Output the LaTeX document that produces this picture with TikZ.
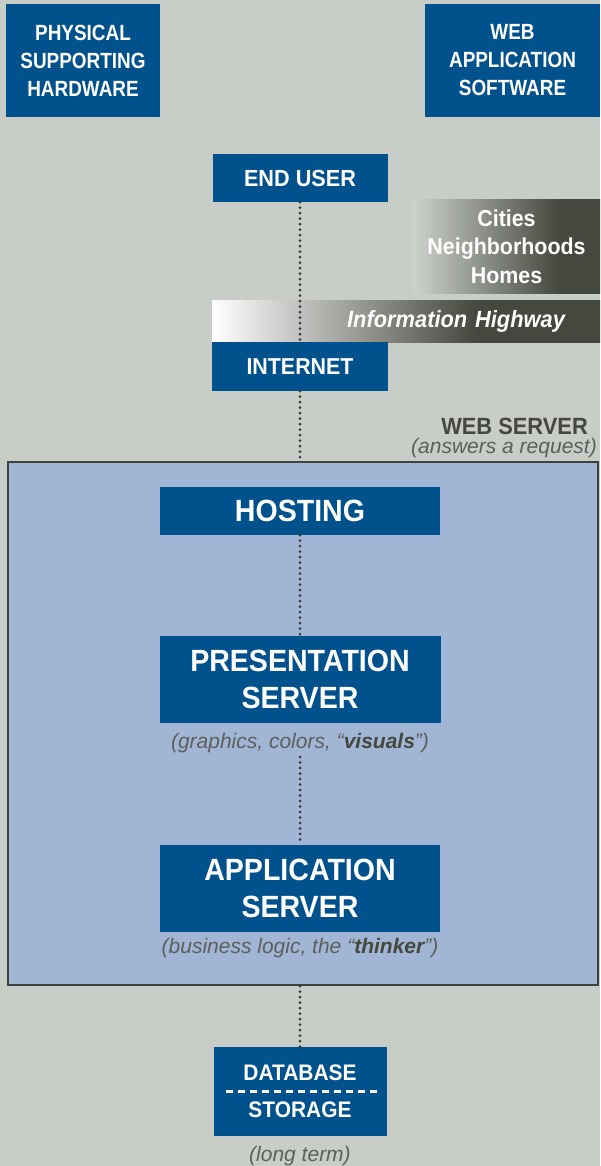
\documentclass[tikz,border=0pt]{standalone}
\usepackage{fontspec}
\setmainfont{Liberation Sans}
\newfontfamily\condfont[FakeStretch=0.86]{Liberation Sans}
\newfontfamily\widefont[FakeStretch=0.93]{Liberation Sans}
\usetikzlibrary{positioning}
\definecolor{bgray}{RGB}{200,205,199}
\definecolor{navy}{RGB}{0,81,140}
\definecolor{slate}{RGB}{68,72,62}
\definecolor{frameblue}{RGB}{161,181,212}
\definecolor{framegray}{RGB}{62,66,62}
\definecolor{notegray}{RGB}{92,96,92}
\definecolor{dotgray}{RGB}{55,58,55}
\pgfdeclarehorizontalshading{hwyfade}{100bp}{color(0bp)=(white); color(25bp)=(white); color(59bp)=(slate); color(100bp)=(slate)}
\pgfdeclarehorizontalshading{cityfade}{100bp}{color(0bp)=(bgray!90!white); color(25bp)=(bgray!90!white); color(64bp)=(slate); color(100bp)=(slate)}
\tikzset{
  bluebox/.style={fill=navy, text=white, align=center, inner sep=0pt,
    font=\condfont\bfseries\fontsize{22}{28}\selectfont},
  midbox/.style={bluebox, font=\widefont\bfseries\fontsize{23.3}{28}\selectfont},
  bigbox/.style={bluebox, font=\widefont\bfseries\fontsize{30.7}{37}\selectfont},
  note/.style={text=notegray, inner sep=0pt, font=\itshape\fontsize{21}{24}\selectfont},
  dotlink/.style={dotgray, line width=3pt, line cap=round, dash pattern=on 0pt off 5.5pt}
}
\begin{document}
\begin{tikzpicture}[x=1pt, y=-1pt]
\fill[bgray] (0,0) rectangle (600,1166);
\useasboundingbox (0,0) rectangle (600,1166);
% top labels
\node[bluebox, minimum width=154pt, minimum height=113pt] (hw) at (83,60.5) {PHYSICAL\\SUPPORTING\\HARDWARE};
\node[bluebox, minimum width=175pt, minimum height=113pt] (sw) at (512.5,60.5) {WEB\\APPLICATION\\SOFTWARE};
% user side
\node[midbox, minimum width=175pt, minimum height=48pt] (enduser) at (300,178) {END USER};
\node[shade, shading=cityfade, minimum width=187pt, minimum height=93pt, inner sep=0pt, align=center,
  text=white, font=\widefont\bfseries\fontsize{23}{28.5}\selectfont] (cities) at (506.5,246.5) {Cities\\Neighborhoods\\Homes};
\node[shade, shading=hwyfade, minimum width=388pt, minimum height=42pt, inner sep=0pt, text width=318pt, align=right,
  text=white, font=\widefont\bfseries\itshape\fontsize{23.5}{26}\selectfont] (hwy) at (406,321.8) {Information Highway};
\node[midbox, font=\widefont\bfseries\fontsize{23}{28}\selectfont, minimum width=176pt, minimum height=49pt] (internet) at (300,366.5) {INTERNET};
\draw[dotlink] (enduser.south) -- (internet.north);
% web server
\node[anchor=east, inner sep=0pt, text=slate, font=\widefont\bfseries\fontsize{23.5}{26}\selectfont] (wslabel) at (588,426) {WEB SERVER};
\node[note, anchor=east] (wsnote) at (597,448) {(answers a request)};
\node[fill=frameblue, draw=framegray, line width=2pt, minimum width=590pt, minimum height=523pt] (websrv) at (303,723.5) {};
\draw[dotlink] (internet.south) -- (internet.south |- websrv.north);
\node[bigbox, minimum width=280pt, minimum height=48pt] (hosting) at (300,511) {HOSTING};
\node[bigbox, minimum width=281pt, minimum height=87pt] (pres) at (300,679.5) {PRESENTATION\\SERVER};
\node[note] (presnote) at (300,743) {(graphics, colors, “{\color{slate}\bfseries visuals}”)};
\node[bigbox, minimum width=280pt, minimum height=87pt] (app) at (300,888.5) {APPLICATION\\SERVER};
\node[note] (appnote) at (300,948) {(business logic, the “{\color{slate}\bfseries thinker}”)};
\draw[dotlink] (hosting.south) -- (pres.north);
\draw[dotlink] ([yshift=-4pt]presnote.south) -- (app.north);
% storage
\node[bluebox, font=\widefont\bfseries\fontsize{22.5}{26}\selectfont, minimum width=173pt, minimum height=89pt] (db) at (300,1091.5) {DATABASE\\[11pt]STORAGE};
\draw[white, line width=2.2pt, dash pattern=on 7pt off 5pt] ([xshift=13pt]db.west) -- ([xshift=-8pt]db.east);
\node[note] (dbnote) at (300,1156) {(long term)};
\draw[dotlink] (db.north |- websrv.south) -- (db.north);
\end{tikzpicture}
\end{document}
